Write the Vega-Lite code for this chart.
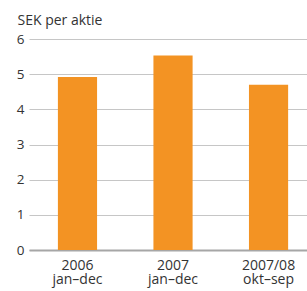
{
  "$schema": "https://vega.github.io/schema/vega-lite/v6.json",
  "width": 278,
  "height": 211,
  "autosize": {"type": "none"},
  "padding": {"left": 29, "top": 39, "right": 0, "bottom": 41},
  "background": "white",
  "config": {
    "view": {"stroke": null},
    "font": "Open Sans",
    "axis": {"labelFont": "Open Sans", "titleFont": "Open Sans", "labelColor": "#333333", "titleColor": "#333333"}
  },
  "data": {
    "values": [
      {"period": "2006|jan–dec", "value": 4.92},
      {"period": "2007|jan–dec", "value": 5.53},
      {"period": "2007/08|okt–sep", "value": 4.70}
    ]
  },
  "mark": {"type": "bar", "color": "#F39323"},
  "encoding": {
    "x": {
      "field": "period",
      "type": "nominal",
      "sort": null,
      "scale": {"paddingInner": 0.59, "paddingOuter": 0.25, "align": 0.605},
      "axis": {
        "title": null,
        "labelAngle": 0,
        "labelExpr": "split(datum.label, '|')",
        "labelFontSize": 14,
        "labelLineHeight": 14.5,
        "labelPadding": 8,
        "ticks": false,
        "domain": true,
        "domainColor": "#a6a6a6",
        "domainWidth": 2,
        "labelBaseline": "top"
      }
    },
    "y": {
      "field": "value",
      "type": "quantitative",
      "scale": {"domain": [0, 6]},
      "axis": {
        "title": "SEK per aktie",
        "titleAngle": 0,
        "titleAlign": "left",
        "titleBaseline": "alphabetic",
        "titleX": -12,
        "titleY": -15,
        "titleFontSize": 14,
        "titleFontWeight": "normal",
        "values": [0, 1, 2, 3, 4, 5, 6],
        "labelFontSize": 13.5,
        "labelPadding": 5,
        "ticks": false,
        "domain": false,
        "grid": true,
        "gridColor": "#c6c6c6",
        "gridWidth": 1
      }
    }
  }
}
